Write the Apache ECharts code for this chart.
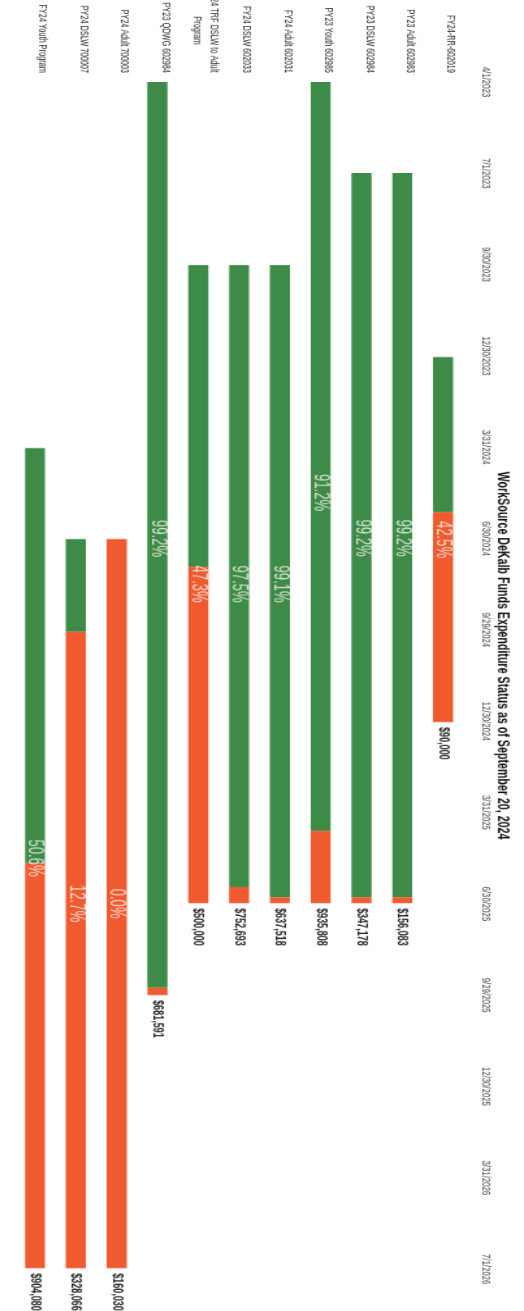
<!DOCTYPE html>
<html><head><meta charset="utf-8">
<script src="https://cdn.jsdelivr.net/npm/echarts@6/dist/echarts.min.js"></script>
<style>
html,body{margin:0;padding:0;background:#fff;width:524px;height:1311px;overflow:hidden;}
#chart{position:absolute;left:0;top:0;width:1598.78px;height:403px;transform-origin:0 0;transform:translate(524px,0) rotate(90deg) scale(0.82,1.3);}
</style></head><body><div id="chart"></div>
<script>
const categories = [
  'FY24-RR-602019',
  'PY23 Adult 602983',
  'PY23 DSLW 602984',
  'PY23 Youth 602985',
  'FY24 Adult 602031',
  'FY24 DSLW 602033',
  'FY24 TRF DSLW to Adult\nProgram',
  'PY23 QDWG 602984',
  'PY24 Adult 700003',
  'PY24 DSLW 700007',
  'FY24 Youth Program'
];
const startDates = ['2024-01-01','2023-07-01','2023-07-01','2023-04-01','2023-10-01','2023-10-01','2023-10-01','2023-04-01','2024-07-01','2024-07-01','2024-04-01'];
const endDates   = ['2024-12-31','2025-06-30','2025-06-30','2025-06-30','2025-06-30','2025-06-30','2025-06-30','2025-09-30','2026-06-30','2026-06-30','2026-06-30'];
const spentPct   = [42.5, 99.2, 99.2, 91.2, 99.1, 97.5, 47.3, 99.2, 0.0, 12.7, 50.6];
const budgets    = ['$90,000','$156,083','$347,178','$935,808','$637,518','$752,693','$500,000','$681,591','$160,030','$328,066','$904,080'];
const tickLabels = ['4/1/2023','7/1/2023','9/30/2023','12/30/2023','3/31/2024','6/30/2024','9/29/2024','12/30/2024','3/31/2025','6/30/2025','9/29/2025','12/30/2025','3/31/2026','7/1/2026'];

const FONT = '"Liberation Sans",Arial,sans-serif';
const GREEN = '#3e8a47';
const RED = '#ef5a2e';
const SX = 0.82; // horizontal condensing applied by CSS

function mdyToUTC(s){ const [m,d,y] = s.split('/').map(Number); return Date.UTC(y,m-1,d); }
const BASE = mdyToUTC(tickLabels[0]);
function isoDay(s){ const [y,m,d] = s.split('-').map(Number); return Math.round((Date.UTC(y,m-1,d)-BASE)/864e5); }
const xMax = Math.round((mdyToUTC(tickLabels[tickLabels.length-1])-BASE)/864e5);
const xInterval = xMax/(tickLabels.length-1);

const startVals = startDates.map(isoDay);
const endVals = endDates.map(isoDay);
const spentLen = startVals.map((s,i)=> (endVals[i]-s)*spentPct[i]/100);
const remainLen = startVals.map((s,i)=> (endVals[i]-s) - spentLen[i]);
const midPts = startVals.map((s,i)=> [(s+endVals[i])/2, i]);

const chart = echarts.init(document.getElementById('chart'), null, {renderer:'canvas'});
const BW = 15.4;
chart.setOption({
  animation:false,
  backgroundColor:'#ffffff',
  title:{
    text:'WorkSource DeKalb Funds Expenditure Status as of September 20, 2024',
    left:'center', top:5,
    textStyle:{fontFamily:FONT, fontWeight:'bold', fontSize:13, color:'#111'}
  },
  grid:{left:82/SX, right:42/SX, top:46.5, bottom:11.2, containLabel:false, outerBoundsMode:'none'},
  xAxis:{
    type:'value', position:'top', min:0, max:xMax, interval:xInterval,
    axisLine:{show:false}, axisTick:{show:false}, splitLine:{show:false},
    axisLabel:{
      margin:12, fontFamily:FONT, fontSize:9.5, color:'#444',
      showMinLabel:true, showMaxLabel:true, hideOverlap:false,
      formatter:function(v){ const i=Math.round(v/xInterval); return tickLabels[i]||''; }
    }
  },
  yAxis:{
    type:'category', inverse:true, data:categories,
    axisLine:{show:false}, axisTick:{show:false}, splitLine:{show:false},
    axisLabel:{
      margin:9/SX, fontFamily:FONT, fontSize:9, color:'#222', lineHeight:13,
      padding:[0,0,12,0], interval:0,
      formatter:function(v){ return v.indexOf('\n')>=0 ? '{c|'+v+'}' : v; },
      rich:{c:{fontFamily:FONT, fontSize:9, color:'#222', lineHeight:13, width:85/SX, align:'center'}}
    }
  },
  series:[
    {name:'offset', type:'bar', stack:'g', barWidth:BW, silent:true,
     itemStyle:{color:'rgba(0,0,0,0)'}, data:startVals},
    {name:'Spent', type:'bar', stack:'g', barWidth:BW,
     itemStyle:{color:GREEN}, data:spentLen},
    {name:'Remaining', type:'bar', stack:'g', barWidth:BW,
     itemStyle:{color:RED}, data:remainLen,
     label:{show:true, position:'right', distance:5/SX, fontFamily:FONT, fontSize:11, fontWeight:'bold', color:'#222',
       formatter:function(p){ return budgets[p.dataIndex]; }}},
    {name:'pct', type:'scatter', symbolSize:1, itemStyle:{color:'rgba(0,0,0,0)'}, z:5,
     data:midPts,
     label:{show:true, position:'inside', fontFamily:FONT, fontSize:16, color:'#f6f6f2',
       formatter:function(p){ return spentPct[p.dataIndex].toFixed(1)+'%'; }}}
  ]
});
</script>
</body></html>
